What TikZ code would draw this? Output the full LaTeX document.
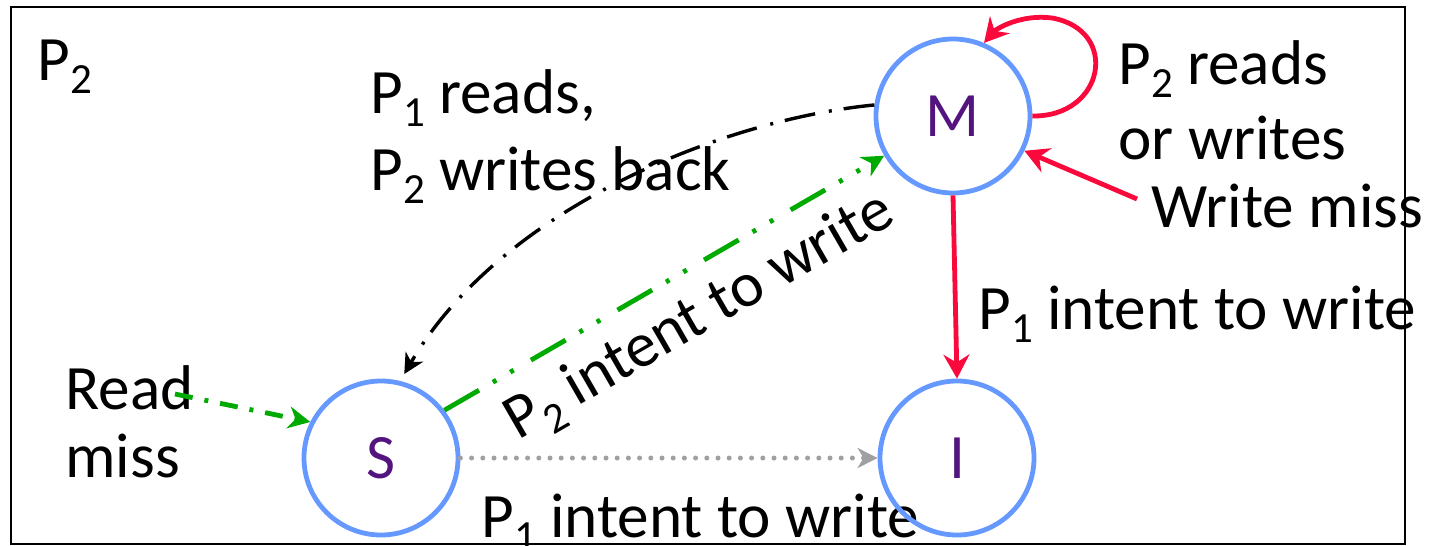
\documentclass[tikz,border=0pt]{standalone}
\usepackage{fontspec}
\setmainfont{Carlito}
\usetikzlibrary{arrows.meta}
\definecolor{cred}{RGB}{250,10,60}
\definecolor{cblue}{RGB}{102,153,255}
\definecolor{cpurple}{RGB}{84,20,128}
\definecolor{cgreen}{RGB}{0,170,0}
\definecolor{cgray}{RGB}{160,160,160}
\newcommand{\lsub}[1]{\raisebox{-6.5pt}{\fontsize{21.5}{21.5}\selectfont #1}}
\begin{document}
\begin{tikzpicture}[x=0.5pt,y=-0.5pt,
  lbl/.style={font=\fontsize{31.6}{37}\selectfont, anchor=base west, inner sep=0pt, text=black},
  state/.style={circle, draw=cblue, line width=2.4pt, minimum size=77pt, inner sep=0pt,
                font=\fontsize{31.6}{37}\selectfont, text=cpurple},
  redarrow/.style={draw=cred, line width=2.4pt, -{Stealth[length=12pt,width=13pt,inset=4pt]}},
  blackdd/.style={draw=black, line width=1.7pt, dash pattern=on 15.5pt off 6pt on 1.5pt off 7pt,
                  -{Stealth[length=10pt,width=10pt,inset=3pt]}},
  greendd/.style={draw=cgreen, line width=2.4pt, dash pattern=on 20pt off 8pt on 2pt off 8pt on 2pt off 10pt,
                  -{Stealth[length=11pt,width=11pt,inset=3.5pt]}},
  greenrd/.style={draw=cgreen, line width=2.4pt, dash pattern=on 9pt off 6pt on 2pt off 6pt,
                  -{Stealth[length=11pt,width=11pt,inset=3.5pt]}},
  grayd/.style={draw=cgray, line width=2.5pt, line cap=round, dash pattern=on 0pt off 5.6pt,
                  -{Stealth[length=10pt,width=10pt,inset=3pt]}},
  frame/.style={draw=black, line width=1pt}
]
\useasboundingbox (0,0) rectangle (1435,546);
\draw[frame] (11,7) rectangle (1405,544);

% labels
\node[lbl] (p2) at (37,80) {P\lsub{2}};
\node[lbl] (l1a) at (370,113) {P\lsub{1} reads,};
\node[lbl] (l1b) at (370,190) {P\lsub{2} writes back};
\node[lbl] (l2a) at (1118,84) {P\lsub{2} reads};
\node[lbl] (l2b) at (1118,159) {or writes};
\node[lbl] (l3) at (1151,227) {Write miss};
\node[lbl] (l4) at (978,329) {P\lsub{1} intent to write};
\node[lbl] (l5a) at (65,409) {Read};
\node[lbl] (l5b) at (65,477) {miss};
\node[lbl] (l6) at (481,537) {P\lsub{1} intent to write};
\node[lbl, rotate=30] (l7) at (518,441) {P\lsub{2} intent to write};

% states
\node[state] (M) at (953,116) {M};
\node[state] (S) at (381,458) {S};
\node[state] (I) at (957,458) {I};

\coordinate (wm) at (1137,199);
\coordinate (rm) at (175,394);

% edges
\draw[redarrow] (M.east) .. controls (1105,117) and (1120,30) .. (1052,18)
                 .. controls (1022,14) and (997,28) .. (M.67);
\draw[redarrow] (wm) -- (M.-26);
\draw[redarrow] (M.south) -- (I.north);
\draw[blackdd, shorten >=4pt] (M.172) .. controls (720,120) and (500,210) .. (S.76);
\draw[greendd] (S.37) -- (M.210);
\draw[greenrd] (rm) -- (S.153);
\draw[grayd] (S.east) -- (I.west);
\end{tikzpicture}
\end{document}
